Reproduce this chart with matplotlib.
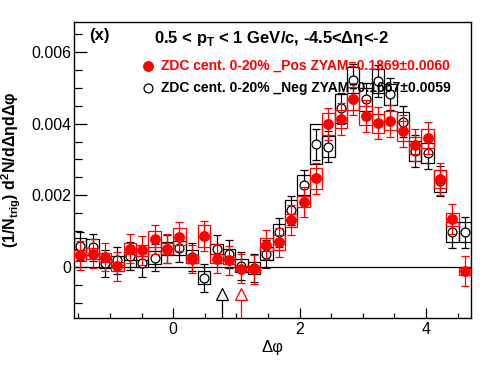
import numpy as np
import matplotlib
matplotlib.use("Agg")
import matplotlib.pyplot as plt
from matplotlib.ticker import FixedLocator, MultipleLocator, FixedFormatter

plt.rcParams['font.family'] = ['Liberation Sans', 'DejaVu Sans']
plt.rcParams['mathtext.fontset'] = 'custom'
plt.rcParams['mathtext.rm'] = 'Liberation Sans'
plt.rcParams['mathtext.bf'] = 'Liberation Sans:bold'

# 32 bins in dphi from -pi/2 to 3pi/2
nbins = 32
edges = np.linspace(-np.pi / 2, 3 * np.pi / 2, nbins + 1)
centers = 0.5 * (edges[:-1] + edges[1:])
width = edges[1] - edges[0]

# ZDC cent. 0-20% _Pos (red, filled)
pos_val = [0.00032, 0.00037, 0.00027, 0.00001, 0.00051, 0.00046, 0.00077, 0.00051,
           0.00084, 0.00022, 0.00086, 0.00023, 0.00018, -0.00005, -0.00007, 0.00062,
           0.00068, 0.00130, 0.00182, 0.00247, 0.00399, 0.00413, 0.00470, 0.00422,
           0.00401, 0.00408, 0.00380, 0.00340, 0.00359, 0.00245, 0.00133, -0.00012]
pos_stat = [0.00040, 0.00040, 0.00040, 0.00040, 0.00041, 0.00041, 0.00041, 0.00041,
            0.00041, 0.00040, 0.00042, 0.00040, 0.00040, 0.00040, 0.00040, 0.00041,
            0.00041, 0.00042, 0.00042, 0.00044, 0.00045, 0.00045, 0.00045, 0.00045,
            0.00045, 0.00045, 0.00045, 0.00044, 0.00045, 0.00044, 0.00042, 0.00042]
pos_syst = [0.00015, 0.00015, 0.00013, 0.00012, 0.00016, 0.00016, 0.00022, 0.00016,
            0.00024, 0.00012, 0.00030, 0.00012, 0.00010, 0.00008, 0.00008, 0.00018,
            0.00020, 0.00018, 0.00016, 0.00030, 0.00030, 0.00024, 0.00032, 0.00026,
            0.00026, 0.00026, 0.00028, 0.00024, 0.00026, 0.00026, 0.00018, 0.00010]

# ZDC cent. 0-20% _Neg (black, open)
neg_val = [0.00058, 0.00055, 0.00010, 0.00018, 0.00030, 0.00010, 0.00026, 0.00050,
           0.00052, 0.00028, -0.00030, 0.00050, 0.00035, 0.00003, -0.00003, 0.00037,
           0.00096, 0.00158, 0.00228, 0.00342, 0.00336, 0.00443, 0.00522, 0.00468,
           0.00520, 0.00482, 0.00406, 0.00324, 0.00317, 0.00240, 0.00096, 0.00096]
neg_stat = [0.00038, 0.00038, 0.00038, 0.00038, 0.00038, 0.00038, 0.00038, 0.00039,
            0.00039, 0.00039, 0.00039, 0.00039, 0.00039, 0.00039, 0.00039, 0.00039,
            0.00040, 0.00041, 0.00042, 0.00043, 0.00044, 0.00044, 0.00045, 0.00045,
            0.00045, 0.00045, 0.00044, 0.00044, 0.00044, 0.00043, 0.00042, 0.00042]
neg_syst = [0.00022, 0.00022, 0.00012, 0.00012, 0.00012, 0.00010, 0.00018, 0.00018,
            0.00020, 0.00018, 0.00018, 0.00014, 0.00014, 0.00018, 0.00016, 0.00018,
            0.00024, 0.00028, 0.00028, 0.00056, 0.00030, 0.00040, 0.00036, 0.00032,
            0.00034, 0.00030, 0.00026, 0.00028, 0.00028, 0.00030, 0.00028, 0.00028]

# ZYAM minimum positions (arrows)
zyam_x = [0.77, 1.074]
zyam_col = ['black', 'red']

pos_val = np.array(pos_val); pos_syst = np.array(pos_syst)
neg_val = np.array(neg_val); neg_syst = np.array(neg_syst)

fig = plt.figure(figsize=(4.96, 3.70), dpi=100)
ax = fig.add_axes([0.1492, 0.1405, 0.8004, 0.8])

ymin, ymax = -0.00143, 0.00684
ax.set_xlim(-np.pi / 2, 3 * np.pi / 2)
ax.set_ylim(ymin, ymax)

ax.axhline(0, color='black', lw=0.9, zorder=1)

# black: syst boxes, stat errors, markers
ax.bar(centers, 2 * neg_syst, bottom=neg_val - neg_syst, width=width,
       fill=False, edgecolor='black', linewidth=0.9, zorder=2)
ax.errorbar(centers, neg_val, yerr=neg_stat, fmt='o', mfc='white', mec='black',
            color='black', ms=6.4, mew=0.9, elinewidth=0.9, capsize=2.8,
            capthick=0.9, zorder=3)
# red
ax.bar(centers, 2 * pos_syst, bottom=pos_val - pos_syst, width=width,
       fill=False, edgecolor='red', linewidth=0.9, zorder=4)
ax.errorbar(centers, pos_val, yerr=pos_stat, fmt='o', mfc='red', mec='red',
            color='red', ms=6.8, elinewidth=0.9, capsize=2.8, capthick=0.9,
            zorder=5)

# ZYAM arrows
for xz, c in zip(zyam_x, zyam_col):
    ax.vlines(xz, ymin, -0.00092, color=c, lw=0.9, zorder=6)
    ax.plot([xz], [-0.000765], marker='^', ms=8.3, mfc='#f2f2f2', mec=c,
            mew=0.9, zorder=7)

# ticks
ax.xaxis.set_major_locator(FixedLocator([0, 2, 4]))
ax.xaxis.set_minor_locator(MultipleLocator(0.5))
ax.yaxis.set_major_locator(FixedLocator([0, 0.002, 0.004, 0.006]))
ax.yaxis.set_major_formatter(FixedFormatter(['0', '0.002', '0.004', '0.006']))
ax.yaxis.set_minor_locator(MultipleLocator(0.0005))
ax.tick_params(axis='both', which='both', direction='in', top=False, right=False,
               labelsize=11.5, width=0.9)
ax.tick_params(axis='x', which='major', length=7, pad=3)
ax.tick_params(axis='x', which='minor', length=3.6)
ax.tick_params(axis='y', which='major', length=9, pad=2)
ax.tick_params(axis='y', which='minor', length=5.5)
for s in ax.spines.values():
    s.set_linewidth(1.0)

ax.set_xlabel('Δφ', fontsize=12, labelpad=2)
ax.set_ylabel(r'(1/N$_{\mathbf{trig}}$) d$^{\mathbf{2}}$N/dΔηdΔφ', fontsize=11.5,
              fontweight='bold', labelpad=6)

# texts
ax.text(0.0386, 0.939, '(x)', transform=ax.transAxes, fontsize=12,
        fontweight='bold', va='baseline', zorder=10)
ax.text(0.2015, 0.930, r'0.5 < p$_{\mathbf{T}}$ < 1 GeV/c, -4.5<Δη<-2',
        transform=ax.transAxes, fontsize=12, fontweight='bold', va='baseline',
        zorder=10)

# legend
ax.plot([0.1856], [0.851], 'o', ms=6.8, mfc='red', mec='red',
        transform=ax.transAxes, zorder=10, clip_on=False)
ax.text(0.219, 0.851, 'ZDC cent. 0-20% _Pos ZYAM=0.1869±0.0060',
        transform=ax.transAxes, fontsize=10, fontweight='bold', color='red',
        va='center', zorder=10)
ax.plot([0.1856], [0.778], 'o', ms=6.4, mfc='white', mec='black', mew=0.9,
        transform=ax.transAxes, zorder=10, clip_on=False)
ax.text(0.219, 0.778, 'ZDC cent. 0-20% _Neg ZYAM=0.1667±0.0059',
        transform=ax.transAxes, fontsize=10, fontweight='bold', color='black',
        va='center', zorder=10)

fig.savefig('out.png', dpi=100)
